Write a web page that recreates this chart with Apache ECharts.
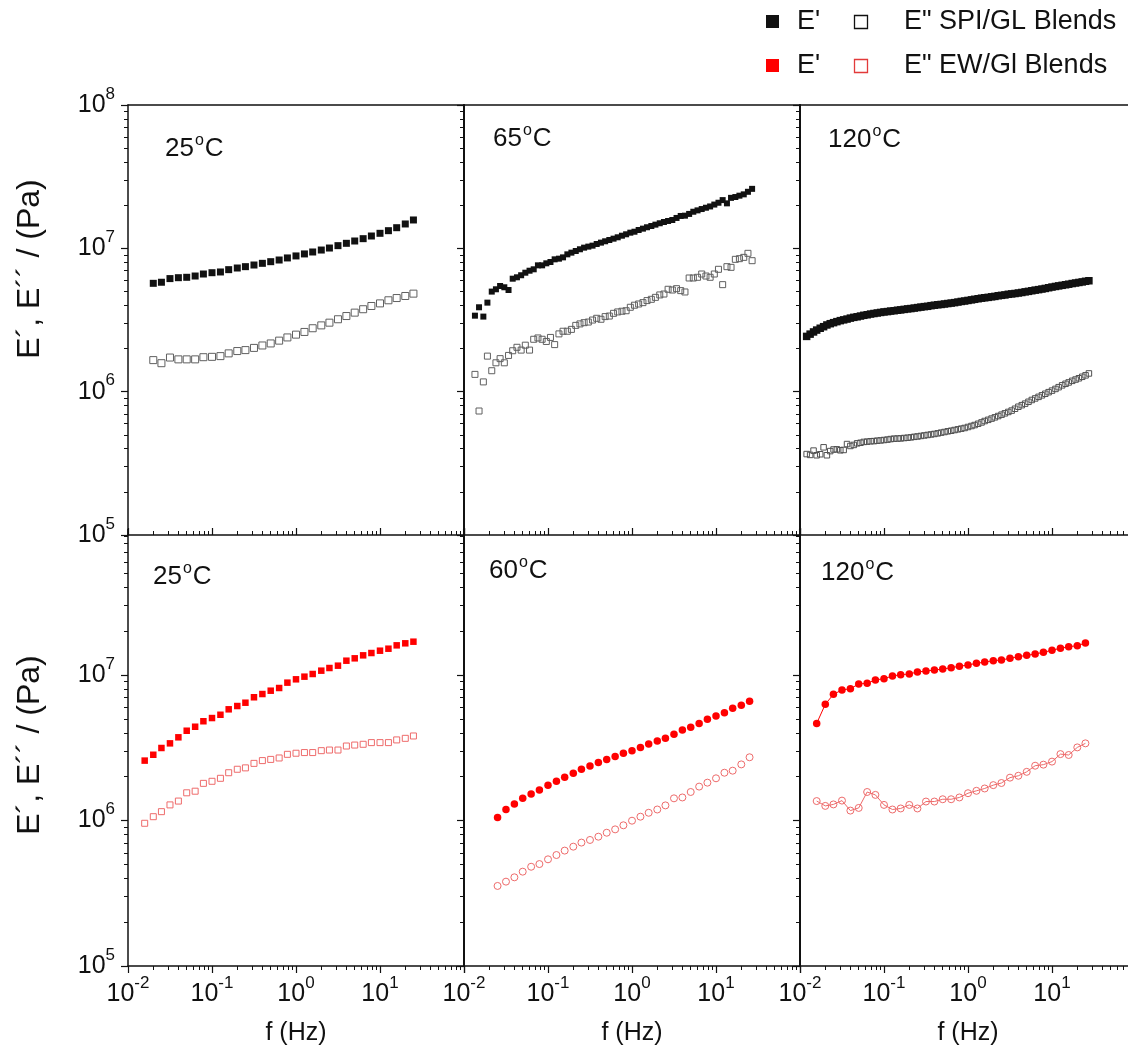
<!DOCTYPE html>
<html>
<head>
<meta charset="utf-8">
<title>E', E'' vs f</title>
<script src="https://cdn.jsdelivr.net/npm/echarts@6/dist/echarts.min.js"></script>
<style>
  html, body { margin: 0; padding: 0; background: #fff; }
  #chart { width: 1128px; height: 1053px; }
</style>
</head>
<body>
<div id="chart"></div>
<script>
// ---- frequencies (Hz) ----
const fTL = [0.02,0.025,0.0316,0.0398,0.05,0.063,0.079,0.1,0.126,0.158,0.2,0.25,0.316,0.398,0.5,0.63,0.79,1,1.26,1.58,2,2.5,3.16,3.98,5,6.3,7.9,10,12.6,15.8,20,25];
const fTM = [0.0135,0.0151,0.017,0.019,0.0214,0.024,0.0269,0.0302,0.0339,0.038,0.0427,0.0479,0.0537,0.0603,0.0676,0.0759,0.0851,0.0955,
  0.107,0.12,0.135,0.151,0.17,0.19,0.214,0.24,0.269,0.302,0.339,0.38,0.427,0.479,0.537,0.603,0.676,0.759,0.851,0.955,
  1.07,1.2,1.35,1.51,1.7,1.9,2.14,2.4,2.69,3.02,3.39,3.8,4.27,4.79,5.37,6.03,6.76,7.59,8.51,9.55,
  10.7,12,13.5,15.1,17,19,21.4,24,26.9];
const fTR = [0.012,0.0132,0.0145,0.0158,0.0174,0.0191,0.0209,0.0229,0.0251,0.0275,0.0302,0.0331,0.0363,0.0398,0.0437,0.0479,0.0525,0.0575,0.0631,0.0692,0.0759,0.0832,0.0912,
  0.1,0.11,0.12,0.132,0.145,0.158,0.174,0.191,0.209,0.229,0.251,0.275,0.302,0.331,0.363,0.398,0.437,0.479,0.525,0.575,0.631,0.692,0.759,0.832,0.912,
  1,1.1,1.2,1.32,1.45,1.58,1.74,1.91,2.09,2.29,2.51,2.75,3.02,3.31,3.63,3.98,4.37,4.79,5.25,5.75,6.31,6.92,7.59,8.32,9.12,
  10,11,12,13.2,14.5,15.8,17.4,19.1,20.9,22.9,25.1,27.5];
const fBL = [0.0158,0.02,0.025,0.0316,0.0398,0.05,0.063,0.079,0.1,0.126,0.158,0.2,0.25,0.316,0.398,0.5,0.63,0.79,1,1.26,1.58,2,2.5,3.16,3.98,5,6.3,7.9,10,12.6,15.8,20,25];
const fBM = [0.0251,0.0316,0.0398,0.05,0.063,0.079,0.1,0.126,0.158,0.2,0.25,0.316,0.398,0.5,0.63,0.79,1,1.26,1.58,2,2.5,3.16,3.98,5,6.3,7.9,10,12.6,15.8,20,25.1];
const fBR = [0.0158,0.02,0.025,0.0316,0.0398,0.05,0.063,0.079,0.1,0.126,0.158,0.2,0.25,0.316,0.398,0.5,0.63,0.79,1,1.26,1.58,2,2.5,3.16,3.98,5,6.3,7.9,10,12.6,15.8,20,25];

// ---- SPI/GL blends (Pa) ----
const e1_25 = [5.70e6,5.80e6,6.15e6,6.24e6,6.28e6,6.41e6,6.62e6,6.76e6,6.84e6,7.10e6,7.29e6,7.45e6,7.65e6,7.86e6,8.07e6,8.29e6,
  8.57e6,8.85e6,9.14e6,9.43e6,9.73e6,1.005e7,1.044e7,1.084e7,1.125e7,1.168e7,1.219e7,1.273e7,1.328e7,1.393e7,1.479e7,1.577e7];
const e2_25 = [1.66e6,1.58e6,1.73e6,1.68e6,1.68e6,1.68e6,1.74e6,1.75e6,1.77e6,1.85e6,1.92e6,1.95e6,2.02e6,2.10e6,2.17e6,2.27e6,
  2.39e6,2.50e6,2.61e6,2.77e6,2.90e6,3.03e6,3.20e6,3.37e6,3.56e6,3.76e6,3.96e6,4.13e6,4.34e6,4.50e6,4.65e6,4.83e6];
const e1_65 = [3.39e6,3.88e6,3.34e6,4.18e6,4.99e6,5.18e6,5.46e6,5.35e6,5.12e6,6.14e6,
  6.28e6,6.49e6,6.76e6,6.98e6,7.14e6,7.61e6,7.61e6,7.86e6,8.03e6,8.38e6,
  8.47e6,8.65e6,9.08e6,9.33e6,9.58e6,9.85e6,1.011e7,1.028e7,1.044e7,1.072e7,
  1.096e7,1.12e7,1.143e7,1.168e7,1.194e7,1.225e7,1.253e7,1.286e7,1.306e7,1.343e7,
  1.372e7,1.403e7,1.432e7,1.463e7,1.496e7,1.527e7,1.552e7,1.577e7,1.629e7,1.682e7,
  1.69e7,1.738e7,1.80e7,1.84e7,1.88e7,1.92e7,1.96e7,2.02e7,2.08e7,2.17e7,
  2.06e7,2.25e7,2.28e7,2.33e7,2.38e7,2.48e7,2.60e7];
const e2_65 = [1.32e6,7.33e5,1.17e6,1.77e6,1.40e6,1.59e6,1.70e6,1.59e6,1.79e6,1.93e6,
  2.04e6,1.95e6,2.11e6,1.95e6,2.32e6,2.37e6,2.32e6,2.24e6,2.39e6,2.13e6,
  2.53e6,2.64e6,2.64e6,2.72e6,2.90e6,2.97e6,3.03e6,3.06e6,3.16e6,3.25e6,
  3.20e6,3.34e6,3.37e6,3.52e6,3.60e6,3.64e6,3.67e6,3.88e6,4.01e6,4.09e6,
  4.18e6,4.32e6,4.41e6,4.55e6,4.73e6,4.80e6,5.18e6,5.12e6,5.23e6,5.07e6,
  4.96e6,6.21e6,6.21e6,6.28e6,6.62e6,6.41e6,6.28e6,6.62e6,7.14e6,5.58e6,
  7.45e6,7.37e6,8.38e6,8.47e6,8.65e6,9.23e6,8.20e6];
const e1_120 = [2.43e6,2.52e6,2.61e6,2.69e6,2.77e6,2.84e6,2.92e6,2.98e6,3.03e6,3.08e6,
  3.13e6,3.17e6,3.21e6,3.26e6,3.30e6,3.33e6,3.37e6,3.41e6,3.44e6,3.48e6,
  3.51e6,3.54e6,3.57e6,3.60e6,3.62e6,3.65e6,3.67e6,3.70e6,3.72e6,3.75e6,
  3.78e6,3.80e6,3.83e6,3.86e6,3.89e6,3.92e6,3.94e6,3.98e6,4.01e6,4.04e6,
  4.06e6,4.09e6,4.12e6,4.15e6,4.18e6,4.22e6,4.26e6,4.29e6,4.33e6,4.37e6,
  4.41e6,4.45e6,4.49e6,4.52e6,4.55e6,4.59e6,4.62e6,4.67e6,4.70e6,4.73e6,
  4.78e6,4.81e6,4.84e6,4.88e6,4.92e6,4.97e6,5.01e6,5.06e6,5.11e6,5.15e6,
  5.20e6,5.25e6,5.31e6,5.37e6,5.42e6,5.47e6,5.52e6,5.57e6,5.62e6,5.68e6,
  5.73e6,5.78e6,5.83e6,5.89e6,5.94e6];
const e2_120 = [3.67e5,3.62e5,3.88e5,3.60e5,3.66e5,4.09e5,3.60e5,3.85e5,3.95e5,3.96e5,
  3.90e5,3.92e5,4.31e5,4.18e5,4.25e5,4.36e5,4.40e5,4.46e5,4.48e5,4.51e5,
  4.52e5,4.55e5,4.57e5,4.60e5,4.63e5,4.67e5,4.70e5,4.71e5,4.72e5,4.75e5,
  4.77e5,4.80e5,4.84e5,4.87e5,4.91e5,4.95e5,4.99e5,5.03e5,5.07e5,5.12e5,
  5.18e5,5.23e5,5.29e5,5.34e5,5.40e5,5.46e5,5.52e5,5.58e5,5.67e5,5.76e5,
  5.85e5,5.97e5,6.10e5,6.24e5,6.36e5,6.49e5,6.62e5,6.76e5,6.91e5,7.06e5,
  7.22e5,7.38e5,7.60e5,7.85e5,8.05e5,8.25e5,8.50e5,8.75e5,8.97e5,9.20e5,
  9.43e5,9.67e5,9.92e5,1.017e6,1.045e6,1.075e6,1.107e6,1.135e6,1.16e6,1.19e6,
  1.215e6,1.24e6,1.27e6,1.30e6,1.34e6];

// ---- EW/Gl blends (Pa) ----
const r1_25 = [2.58e6,2.83e6,3.15e6,3.39e6,3.73e6,4.14e6,4.41e6,4.81e6,5.06e6,5.33e6,5.81e6,6.12e6,6.45e6,7.03e6,7.40e6,7.80e6,8.14e6,
  8.86e6,9.34e6,9.74e6,1.016e7,1.071e7,1.117e7,1.159e7,1.254e7,1.302e7,1.365e7,1.416e7,1.469e7,1.516e7,1.599e7,1.651e7,1.694e7];
const r2_25 = [9.57e5,1.062e6,1.15e6,1.28e6,1.36e6,1.55e6,1.59e6,1.80e6,1.86e6,1.95e6,2.13e6,2.25e6,2.30e6,2.47e6,2.58e6,2.63e6,2.69e6,
  2.85e6,2.90e6,2.93e6,2.93e6,3.02e6,3.05e6,3.05e6,3.25e6,3.30e6,3.34e6,3.43e6,3.43e6,3.43e6,3.58e6,3.67e6,3.81e6];
const r1_60 = [1.05e6,1.19e6,1.30e6,1.42e6,1.52e6,1.62e6,1.75e6,1.86e6,1.98e6,2.11e6,2.25e6,2.37e6,2.50e6,2.63e6,2.75e6,2.90e6,
  3.02e6,3.18e6,3.36e6,3.52e6,3.67e6,3.91e6,4.19e6,4.37e6,4.65e6,4.96e6,5.23e6,5.51e6,5.90e6,6.19e6,6.59e6];
const r2_60 = [3.55e5,3.80e5,4.07e5,4.45e5,4.81e5,5.02e5,5.41e5,5.79e5,6.21e5,6.61e5,7.05e5,7.35e5,7.74e5,8.24e5,8.69e5,9.27e5,
  9.97e5,1.062e6,1.13e6,1.19e6,1.27e6,1.42e6,1.44e6,1.57e6,1.71e6,1.82e6,1.95e6,2.13e6,2.20e6,2.43e6,2.72e6];
const r1_120 = [4.65e6,6.29e6,7.36e6,7.89e6,8.05e6,8.67e6,8.77e6,9.24e6,9.44e6,9.84e6,1.005e7,1.016e7,1.049e7,1.065e7,1.082e7,1.099e7,1.122e7,
  1.148e7,1.172e7,1.202e7,1.228e7,1.254e7,1.268e7,1.302e7,1.336e7,1.365e7,1.393e7,1.432e7,1.479e7,1.527e7,1.566e7,1.589e7,1.660e7];
const r2_120 = [1.36e6,1.26e6,1.29e6,1.37e6,1.17e6,1.22e6,1.57e6,1.50e6,1.28e6,1.19e6,1.21e6,1.28e6,1.21e6,1.35e6,1.35e6,1.40e6,1.40e6,
  1.44e6,1.54e6,1.60e6,1.66e6,1.75e6,1.81e6,1.97e6,2.03e6,2.16e6,2.38e6,2.42e6,2.54e6,2.86e6,2.82e6,3.18e6,3.39e6];

// ---- tick values ----
const xMajor = [0.01, 0.1, 1, 10, 100];
const xLabels = [0.01, 0.1, 1, 10];
const xMinor = [0.02,0.03,0.04,0.05,0.06,0.07,0.08,0.09,0.2,0.3,0.4,0.5,0.6,0.7,0.8,0.9,2,3,4,5,6,7,8,9,20,30,40,50,60,70,80,90];
const yMajorTop = [1e5, 1e6, 1e7, 1e8];
const yMajorBottom = [1e5, 1e6, 1e7];
const yMinor = [2e5,3e5,4e5,5e5,6e5,7e5,8e5,9e5,2e6,3e6,4e6,5e6,6e6,7e6,8e6,9e6,2e7,3e7,4e7,5e7,6e7,7e7,8e7,9e7];

const FONT = '"Liberation Sans", Arial, sans-serif';
const INK = '#111';
const RED = '#ff0000';
const PINK = '#ee6b6b';
const GREY = '#606060';

const supRich = {
  b: { fontSize: 25, fontFamily: FONT, color: INK },
  s: { fontSize: 17, fontFamily: FONT, color: INK, verticalAlign: 'top', padding: [0, 0, 22, 0] }
};
function powLabel(v) {
  const e = Math.round(Math.log10(v));
  return '{b|10}{s|' + e + '}';
}

// panel layout
const panels = [
  { left: 128, top: 105,   height: 430,   row: 0, col: 0 },
  { left: 464, top: 105,   height: 430,   row: 0, col: 1 },
  { left: 800, top: 105,   height: 430,   row: 0, col: 2 },
  { left: 128, top: 529.5, height: 436.5, row: 1, col: 0 },
  { left: 464, top: 529.5, height: 436.5, row: 1, col: 1 },
  { left: 800, top: 529.5, height: 436.5, row: 1, col: 2 }
];

const grids = [], xAxis = [], yAxis = [], axisRef = [];
panels.forEach((p, i) => {
  const bottom = p.row === 1;
  grids.push({ left: p.left, top: p.top, width: 336, height: p.height, show: false, containLabel: false, outerBoundsMode: 'none' });

  const xi = xAxis.length;
  xAxis.push({
    type: 'log', logBase: 10, gridIndex: i, min: 0.01, max: 100, position: 'bottom',
    axisLine: { show: true, lineStyle: { color: INK, width: 1.5 } },
    axisTick: { show: true, inside: !bottom, length: 7, customValues: xMajor, lineStyle: { color: INK, width: 1.2 } },
    axisLabel: bottom
      ? { show: true, customValues: xLabels, formatter: powLabel, rich: supRich, margin: 9, showMinLabel: true, showMaxLabel: true }
      : { show: false },
    splitLine: { show: false }, minorTick: { show: false },
    name: bottom ? 'f (Hz)' : '', nameLocation: 'middle', nameGap: 55, nameMoveOverlap: false,
    nameTextStyle: { fontSize: 25, fontFamily: FONT, color: INK }
  });
  xAxis.push({
    type: 'log', logBase: 10, gridIndex: i, min: 0.01, max: 100, position: 'bottom',
    axisLine: { show: false },
    axisTick: { show: true, inside: !bottom, length: 4, customValues: xMinor, lineStyle: { color: INK, width: 1 } },
    axisLabel: { show: false }, splitLine: { show: false }
  });
  if (!bottom) {
    xAxis.push({
      type: 'log', logBase: 10, gridIndex: i, min: 0.01, max: 100, position: 'top',
      axisLine: { show: true, lineStyle: { color: INK, width: 1.5 } },
      axisTick: { show: false }, axisLabel: { show: false }, splitLine: { show: false }
    });
  }

  const yi = yAxis.length;
  yAxis.push({
    type: 'log', logBase: 10, gridIndex: i, min: 1e5, max: 1e8, position: 'left',
    axisLine: { show: true, lineStyle: { color: INK, width: p.col === 0 ? 1.5 : 2 } },
    axisTick: { show: true, inside: false, length: 7, customValues: bottom ? yMajorBottom : yMajorTop, lineStyle: { color: INK, width: 1.2 } },
    axisLabel: p.col === 0
      ? { show: true, customValues: bottom ? yMajorBottom : yMajorTop, formatter: powLabel, rich: supRich, margin: 13, showMinLabel: true, showMaxLabel: true }
      : { show: false },
    splitLine: { show: false }
  });
  yAxis.push({
    type: 'log', logBase: 10, gridIndex: i, min: 1e5, max: 1e8, position: 'left',
    axisLine: { show: false },
    axisTick: { show: true, inside: false, length: 4, customValues: yMinor, lineStyle: { color: INK, width: 1 } },
    axisLabel: { show: false }, splitLine: { show: false }
  });
  axisRef.push({ x: xi, y: yi });
});

function pts(f, v) { return f.map((x, k) => [x, v[k]]); }
function filled(panel, f, v, symbol, size, color, withLine) {
  return {
    type: withLine ? 'line' : 'scatter', xAxisIndex: axisRef[panel].x, yAxisIndex: axisRef[panel].y,
    data: pts(f, v), symbol: symbol, symbolSize: size, showSymbol: true,
    itemStyle: { color: color, opacity: 1 },
    lineStyle: { color: color, width: 1 },
    emphasis: { disabled: true }, silent: true, z: 3
  };
}
function open(panel, f, v, symbol, size, color, withLine) {
  return {
    type: withLine ? 'line' : 'scatter', xAxisIndex: axisRef[panel].x, yAxisIndex: axisRef[panel].y,
    data: pts(f, v), symbol: symbol, symbolSize: size, showSymbol: true,
    itemStyle: { color: 'rgba(255,255,255,0)', borderColor: color, borderWidth: 1, opacity: 1 },
    lineStyle: { color: color, width: 1 },
    emphasis: { disabled: true }, silent: true, z: 3
  };
}

const series = [
  filled(0, fTL, e1_25, 'rect', 7, INK),
  open(0, fTL, e2_25, 'rect', 7, GREY),
  filled(1, fTM, e1_65, 'rect', 6, INK),
  open(1, fTM, e2_65, 'rect', 6, GREY),
  filled(2, fTR, e1_120, 'rect', 7.5, INK),
  open(2, fTR, e2_120, 'rect', 5.5, '#505050'),
  filled(3, fBL, r1_25, 'rect', 6.5, RED),
  open(3, fBL, r2_25, 'rect', 6, PINK),
  filled(4, fBM, r1_60, 'circle', 7.5, RED),
  open(4, fBM, r2_60, 'circle', 7, PINK),
  filled(5, fBR, r1_120, 'circle', 7.5, RED, true),
  open(5, fBR, r2_120, 'circle', 7, PINK, true)
];

const degRich = {
  o: { fontSize: 16, fontFamily: FONT, color: INK, verticalAlign: 'top', padding: [0, 1, 17, 1] }
};
function tempLabel(x, y, t) {
  return {
    type: 'text', x: x, y: y, silent: true,
    style: { text: t + '{o|o}C', rich: degRich, fontSize: 26, fontFamily: FONT, fill: INK,
      align: 'left', verticalAlign: 'middle', textAlign: 'left', textVerticalAlign: 'middle' }
  };
}
function plain(x, y, t, size, rot) {
  return {
    type: 'text', x: x, y: y, rotation: rot || 0, silent: true,
    style: { text: t, fontSize: size, fontFamily: FONT, fill: INK,
      align: rot ? 'center' : 'left', verticalAlign: 'middle', textAlign: rot ? 'center' : 'left', textVerticalAlign: 'middle' }
  };
}

const graphic = [
  tempLabel(165, 149, '25'), tempLabel(493, 139, '65'), tempLabel(828, 140, '120'),
  tempLabel(153, 577, '25'), tempLabel(489, 571, '60'), tempLabel(821, 573, '120'),
  plain(30, 269, 'E\u00b4, E\u00b4\u00b4 / (Pa)', 32, Math.PI / 2),
  plain(30, 745, 'E\u00b4, E\u00b4\u00b4 / (Pa)', 32, Math.PI / 2),
  // legend
  { type: 'rect', shape: { x: 766, y: 15, width: 13, height: 13 }, style: { fill: INK }, silent: true },
  plain(797, 22, "E'", 27),
  { type: 'rect', shape: { x: 854.5, y: 15.5, width: 13, height: 13 }, style: { fill: 'none', stroke: INK, lineWidth: 1.3 }, silent: true },
  plain(904, 22, 'E" SPI/GL Blends', 27),
  { type: 'rect', shape: { x: 766, y: 59, width: 13, height: 13 }, style: { fill: RED }, silent: true },
  plain(797, 66, "E'", 27),
  { type: 'rect', shape: { x: 854.5, y: 59.5, width: 13, height: 13 }, style: { fill: 'none', stroke: '#e23a3a', lineWidth: 1.3 }, silent: true },
  plain(904, 66, 'E" EW/Gl Blends', 27)
];

const chart = echarts.init(document.getElementById('chart'), null, { renderer: 'canvas' });
chart.setOption({
  animation: false,
  backgroundColor: '#ffffff',
  textStyle: { fontFamily: FONT },
  grid: grids,
  xAxis: xAxis,
  yAxis: yAxis,
  series: series,
  graphic: graphic
});
</script>
</body>
</html>
